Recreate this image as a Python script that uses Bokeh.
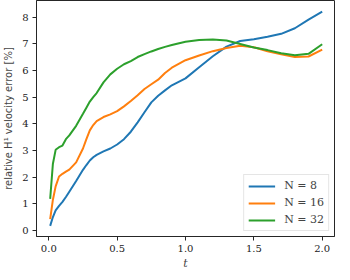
from bokeh.plotting import figure
from bokeh.models import Range1d, FixedTicker, Legend, LegendItem
from bokeh.embed import file_html
from bokeh.resources import INLINE

t = [0.01, 0.03, 0.05, 0.075, 0.1, 0.125, 0.15, 0.2, 0.25, 0.275, 0.3, 0.325, 0.35, 0.4, 0.45, 0.5,
     0.55, 0.6, 0.65, 0.7, 0.75, 0.8, 0.85, 0.9, 1.0, 1.1, 1.2, 1.3, 1.4, 1.5, 1.6, 1.7, 1.8, 1.9, 2.0]
err_n8 = [0.17, 0.5, 0.75, 0.92, 1.07, 1.25, 1.45, 1.85, 2.27, 2.45, 2.62, 2.74, 2.83, 2.96, 3.07, 3.22,
          3.42, 3.7, 4.05, 4.43, 4.8, 5.05, 5.25, 5.44, 5.7, 6.12, 6.53, 6.89, 7.1, 7.17, 7.26, 7.37, 7.58, 7.9, 8.2]
err_n16 = [0.42, 1.15, 1.65, 2.02, 2.12, 2.2, 2.28, 2.55, 3.07, 3.42, 3.75, 3.95, 4.1, 4.25, 4.35, 4.47,
           4.65, 4.85, 5.07, 5.3, 5.48, 5.65, 5.9, 6.1, 6.38, 6.56, 6.72, 6.84, 6.92, 6.87, 6.72, 6.6, 6.5, 6.52, 6.78]
err_n32 = [1.18, 2.5, 3.02, 3.12, 3.18, 3.42, 3.56, 3.92, 4.37, 4.6, 4.83, 5.0, 5.15, 5.55, 5.85, 6.06,
           6.23, 6.35, 6.5, 6.61, 6.71, 6.8, 6.88, 6.95, 7.07, 7.14, 7.16, 7.12, 6.99, 6.86, 6.76, 6.64, 6.57, 6.62, 6.98]
labels = ["N = 8", "N = 16", "N = 32"]
colors = ["#1f77b4", "#ff7f0e", "#2ca02c"]
x_ticks = [0.0, 0.5, 1.0, 1.5, 2.0]
y_ticks = [0, 1, 2, 3, 4, 5, 6, 7, 8]

p = figure(width=335, height=272, output_backend="svg", toolbar_location=None,
           x_range=Range1d(-0.09, 2.09), y_range=Range1d(-0.23, 8.62),
           min_border_left=31, min_border_right=1, min_border_top=0, min_border_bottom=20)
p.xgrid.visible = False
p.ygrid.visible = False
p.outline_line_color = "#262626"
p.outline_line_width = 1

items = []
for ys, lab, c in zip([err_n8, err_n16, err_n32], labels, colors):
    r = p.line(t, ys, line_color=c, line_width=2)
    items.append(LegendItem(label=lab, renderers=[r]))

p.xaxis.ticker = FixedTicker(ticks=x_ticks)
p.yaxis.ticker = FixedTicker(ticks=y_ticks)
p.xaxis.major_label_overrides = {v: f"{v:.1f}" for v in x_ticks}
for ax in (p.xaxis[0], p.yaxis[0]):
    ax.axis_line_color = "#262626"
    ax.major_tick_line_color = "#262626"
    ax.major_tick_out = 4
    ax.major_tick_in = 0
    ax.minor_tick_line_color = None
    ax.major_label_text_font = "DejaVu Serif"
    ax.major_label_text_font_size = "10px"
    ax.major_label_text_color = "#222222"
    ax.major_label_standoff = 4
    ax.axis_label_standoff = 2

p.xaxis.axis_label = "t"
p.xaxis.axis_label_text_font = "DejaVu Serif"
p.xaxis.axis_label_text_font_style = "italic"
p.xaxis.axis_label_text_font_size = "11px"
p.xaxis.axis_label_standoff = 2
p.yaxis.axis_label = "relative H\u00b9 velocity error [%]"
p.yaxis.axis_label_text_font = "DejaVu Sans"
p.yaxis.axis_label_text_font_style = "normal"
p.yaxis.axis_label_text_font_size = "10px"
p.yaxis.axis_label_standoff = 5

legend = Legend(items=items, location="bottom_right")
legend.margin = 5
legend.padding = 4
legend.spacing = 4
legend.glyph_width = 27
legend.glyph_height = 12
legend.label_height = 12
legend.label_standoff = 9
legend.label_text_font = "DejaVu Serif"
legend.label_text_font_size = "11px"
legend.border_line_color = "#cccccc"
legend.border_line_width = 1
legend.background_fill_alpha = 0.85
p.add_layout(legend)

open("out.html", "w").write(file_html(p, INLINE))
